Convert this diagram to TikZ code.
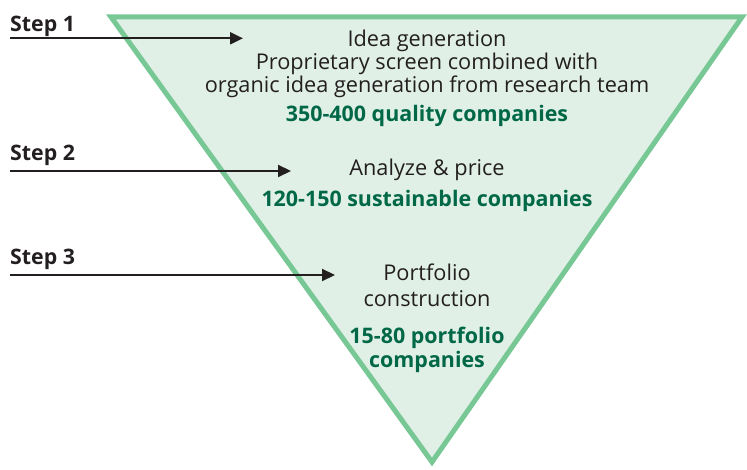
\documentclass[tikz,border=0pt]{standalone}
\usepackage{fontspec}
\setmainfont{Open Sans}
\usepackage{xcolor}
\usepackage{tikz}
\usetikzlibrary{positioning,calc,arrows.meta}
\definecolor{funnelLine}{RGB}{120,200,150}
\definecolor{funnelFill}{RGB}{224,240,230}
\definecolor{darkText}{RGB}{35,31,32}
\definecolor{countGreen}{RGB}{0,104,71}
\tikzset{
  funnelShape/.style={
    draw=funnelLine,
    fill=funnelFill,
    line width=5bp,
    line join=miter
  },
  stepLabel/.style={
    anchor=base west,
    inner sep=0pt,
    text=darkText,
    font=\fontsize{21.4}{24}\selectfont\bfseries
  },
  stageText/.style={
    anchor=base,
    inner sep=0pt,
    align=center,
    text=darkText,
    font=\fontsize{21.8}{23.4}\selectfont
  },
  countText/.style={
    anchor=base,
    inner sep=0pt,
    align=center,
    text=countGreen,
    font=\fontsize{21.5}{24}\selectfont\bfseries
  },
  arrowLine/.style={
    -{Triangle[length=13bp,width=12bp]},
    line width=2.2bp,
    draw=darkText
  }
}
\begin{document}
\begin{tikzpicture}[x=1bp,y=-1bp]
        \useasboundingbox (0,0) rectangle (747,470);

        % funnel
        \coordinate (topLeft) at (111,17);
        \coordinate (topRight) at (742,17);
        \coordinate (apex) at (432,462);
        \draw[funnelShape] (topLeft) -- (topRight) -- (apex) -- cycle;

        % steps
        \node[stepLabel] (stepOne) at (10,31.7) {Step 1};
        \node[stepLabel] (stepTwo) at (10,160.7) {Step 2};
        \node[stepLabel] (stepThree) at (10,265) {Step 3};

        \coordinate (oneStart) at (10,38.3);
        \coordinate (oneEnd) at (243,38.3);
        \coordinate (twoStart) at (10,171);
        \coordinate (twoEnd) at (291,171);
        \coordinate (threeStart) at (10,275);
        \coordinate (threeEnd) at (335,275);

        \draw[arrowLine] (oneStart) -- (oneEnd);
        \draw[arrowLine] (twoStart) -- (twoEnd);
        \draw[arrowLine] (threeStart) -- (threeEnd);

        % stage texts (base = last line)
        \node[stageText] (ideaGen) at (427,92.7) {Idea generation\\Proprietary screen combined with\\organic idea generation from research team};
        \node[countText] (qualityCount) at (427,121.7) {350-400 quality companies};

        \node[stageText] (analyzePrice) at (427,176) {Analyze \& price};
        \node[countText] (sustainCount) at (427,206.7) {120-150 sustainable companies};

        \node[stageText, font=\fontsize{21.8}{26}\selectfont] (portConstr) at (427,306.7) {Portfolio\\construction};
        \node[countText] (portCount) at (427,367.3) {15-80 portfolio\\companies};

    \end{tikzpicture}
\end{document}
